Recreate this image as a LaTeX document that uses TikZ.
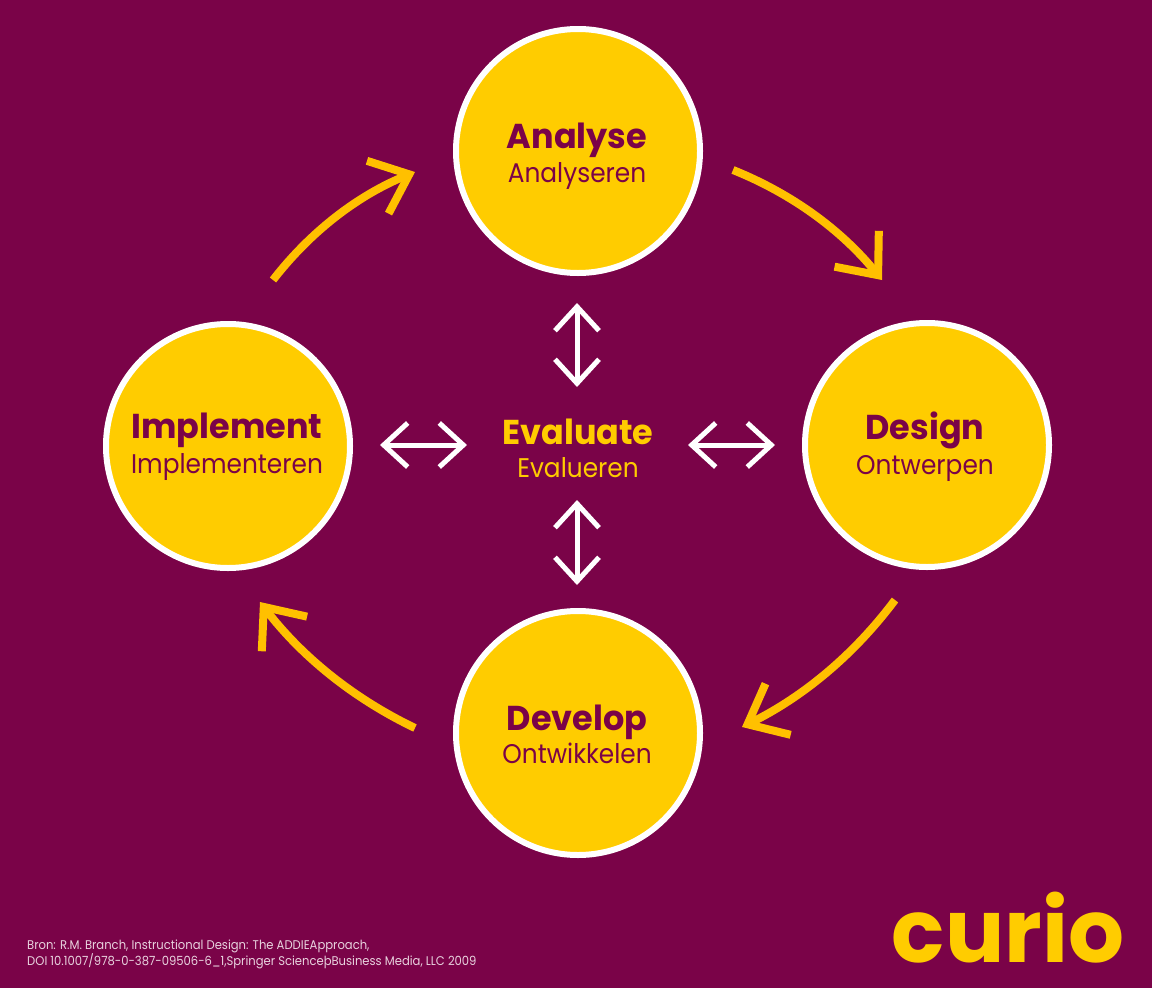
\documentclass[tikz,border=0pt]{standalone}
\usepackage{fontspec}
\setmainfont{Poppins}
\newfontfamily\popfont[FakeStretch=0.92]{Poppins}
\newfontfamily\popbold[FakeStretch=0.97]{Poppins Bold}
\usetikzlibrary{arrows.meta}
\definecolor{bg}{HTML}{7A0348}
\definecolor{yel}{HTML}{FFCC00}
\definecolor{arr}{HTML}{FFC000}
\definecolor{foot}{HTML}{E8D2DE}
\begin{document}
\begin{tikzpicture}[x=1pt,y=-1pt,
  phase/.style={circle, fill=yel, draw=white, line width=6pt, minimum size=244pt, inner sep=0pt},
  ttl/.style={anchor=base, text=bg, inner sep=0pt, font=\popbold\fontsize{34.5}{40}\selectfont},
  sub/.style={anchor=base, text=bg, inner sep=0pt, font=\popfont\fontsize{27}{32}\selectfont},
  cyc/.style={draw=arr, line width=8pt, -{Straight Barb[length=34pt,width=57pt]}},
  eva/.style={draw=white, line width=5pt, {Straight Barb[length=24pt,width=44pt]}-{Straight Barb[length=24pt,width=44pt]}},
  src/.style={anchor=base west, text=foot, inner sep=0pt, font=\popfont\fontsize{12.6}{14}\selectfont}
]
\fill[bg] (0,0) rectangle (1152,988);

% phases
\node[phase] (A) at (578,151) {};
\node[phase] (D) at (927,445) {};
\node[phase] (V) at (578,733) {};
\node[phase] (I) at (228,446) {};

\node[ttl] (At) at (577,148) {Analyse};
\node[sub] (As) at (577,182) {Analyseren};
\node[ttl] (Dt) at (925,439) {Design};
\node[sub] (Ds) at (925,474) {Ontwerpen};
\node[ttl] (Vt) at (577,730) {Develop};
\node[sub] (Vs) at (577,763) {Ontwikkelen};
\node[ttl] (It) at (227,438) {Implement};
\node[sub] (Is) at (227,473) {Implementeren};

% evaluate
\node[ttl, text=yel] (Et) at (578,444) {Evaluate};
\node[sub, text=yel] (Es) at (578,477) {Evalueren};

% cycle arrows
\coordinate (c1a) at (273,280); \coordinate (c1b) at (415,172);
\coordinate (c2a) at (733,170); \coordinate (c2b) at (882,280);
\coordinate (c3a) at (895,600); \coordinate (c3b) at (742,727);
\coordinate (c4a) at (415,728); \coordinate (c4b) at (260,602);
\draw[cyc] (c1a) .. controls (310.7,231.3) and (358,195.3) .. (c1b);
\draw[cyc] (c2a) .. controls (792.2,193.8) and (841.9,230.5) .. (c2b);
\draw[cyc] (c3a) .. controls (854.2,654.6) and (803.2,696.9) .. (c3b);
\draw[cyc] (c4a) .. controls (353.3,698.4) and (301.6,656.4) .. (c4b);

% evaluate arrows
\coordinate (e1a) at (577,303); \coordinate (e1b) at (577,387);
\coordinate (e2a) at (577,500); \coordinate (e2b) at (577,585);
\coordinate (e3a) at (380,445); \coordinate (e3b) at (467,445);
\coordinate (e4a) at (688,445); \coordinate (e4b) at (775,445);
\draw[eva] (e1a) -- (e1b);
\draw[eva] (e2a) -- (e2b);
\draw[eva] (e3a) -- (e3b);
\draw[eva] (e4a) -- (e4b);

% source
\node[src] (s1) at (27,949) {Bron: R.M. Branch, Instructional Design: The ADDIEApproach,};
\node[src] (s2) at (27,965) {DOI 10.1007/978-0-387-09506-6\_1,Springer ScienceþBusiness Media, LLC 2009};

% logo
\node[anchor=base, text=yel, inner sep=0pt, font=\bfseries\fontsize{88}{90}\selectfont] (logo) at (1008,962) {curio};
\end{tikzpicture}
\end{document}
